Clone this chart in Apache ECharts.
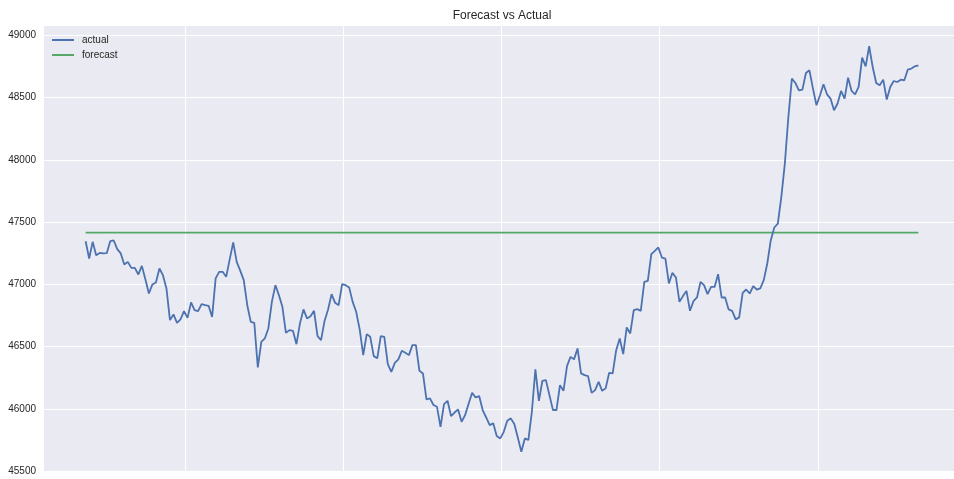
<!DOCTYPE html>
<html>
<head>
<meta charset="utf-8">
<script src="https://cdn.jsdelivr.net/npm/echarts@6/dist/echarts.min.js"></script>
<style>
html,body{margin:0;padding:0;background:#fff;}
#chart{width:954px;height:479px;}
</style>
</head>
<body>
<div id="chart"></div>
<script>
// ---- data ----
const titleText = 'Forecast vs Actual';
const seriesNames = ['actual', 'forecast'];
const actual = [
47346,47207,47341,47234,47252,47248,47250,47346,47352,47282,
47248,47159,47180,47132,47132,47079,47148,47041,46926,46999,
47015,47127,47073,46967,46712,46758,46690,46718,46784,46730,
46854,46792,46784,46840,46832,46827,46738,47047,47100,47100,
47060,47200,47336,47180,47110,47033,
46832,46698,46690,46332,46538,46565,46645,46859,46993,46913,
46819,46610,46632,46626,46519,46686,46798,46726,46744,46787,
46584,46552,46706,46798,46921,46851,46832,47001,46993,46975,
46859,46779,46637,46431,46600,46578,46423,46405,46584,46578,
46359,46297,46369,46397,46466,46450,46431,46511,46511,
46305,46284,46075,46083,46030,46016,45855,46038,46064,45941,
45970,45995,45896,45949,46040,46128,46091,46102,45990,45930,
45869,45883,45781,45762,45815,45904,45923,45877,45770,45655,
45762,45749,45976,46316,46064,46225,46230,46110,45990,45990,
46190,46144,46343,46417,46397,
46485,46284,46270,46262,46128,46150,46217,46144,46164,46289,
46284,46471,46565,46439,46653,46605,46792,46800,46787,47019,
47027,47242,47268,47296,47215,47207,47007,47092,47055,46859,
46905,46947,46787,46865,46894,47019,46993,46921,46979,46979,
47081,46894,46894,46798,46787,46718,46734,46931,
46958,46926,46985,46958,46967,47033,47167,47354,47456,47488,
47702,47970,48344,48652,48617,48558,48564,48697,48719,48572,
48438,48518,48607,48526,48492,48398,48452,48553,48492,48660,
48553,48526,48585,48821,48751,48912,48745,48617,48599,48644,
48484,48585,48633,48625,48644,48639,48725,48733,48751,48759
];
const forecastValue = 47415;
const yTicks = [45500, 46000, 46500, 47000, 47500, 48000, 48500, 49000];
const xTicks = [28.3, 73.3, 118.3, 163.35, 208.4];

// ---- build ----
const actualPts = actual.map((v, i) => [i, v]);
const forecastPts = actual.map((v, i) => [i, forecastValue]);
const n = actual.length - 1;
const xPad = n * 0.05;
const yMinD = Math.min(...actual, forecastValue), yMaxD = Math.max(...actual, forecastValue);
const yPad = (yMaxD - yMinD) * 0.05;

const chart = echarts.init(document.getElementById('chart'), null, {renderer: 'canvas'});
const font = '"Liberation Sans", Arial, sans-serif';
chart.setOption({
  animation: false,
  backgroundColor: '#ffffff',
  title: {
    text: titleText,
    left: 497, top: 5, textAlign: 'center',
    textStyle: {fontFamily: font, fontSize: 12, fontWeight: 'normal', color: '#262626'}
  },
  legend: {
    data: seriesNames,
    orient: 'vertical',
    left: 47, top: 30,
    itemWidth: 22, itemHeight: 14, itemGap: 5,
    icon: 'path://M0,0L22,0L22,2L0,2Z',
    textStyle: {fontFamily: font, fontSize: 10, color: '#262626', padding: [0, 0, 0, 3]}
  },
  grid: {
    left: 44, top: 26, width: 916, height: 446,
    outerBoundsMode: 'none',
    show: true, backgroundColor: '#EAEAF2', borderWidth: 0, containLabel: false
  },
  xAxis: {
    type: 'value',
    min: -xPad, max: n + xPad,
    axisLine: {show: false},
    axisTick: {show: false, customValues: xTicks},
    axisLabel: {show: false, customValues: xTicks},
    splitLine: {show: true, lineStyle: {color: '#ffffff', width: 1}}
  },
  yAxis: {
    type: 'value',
    min: yMinD - yPad, max: yMaxD + yPad,
    axisLine: {show: false},
    axisTick: {show: false, customValues: yTicks},
    axisLabel: {
      customValues: yTicks, margin: 8,
      fontFamily: font, fontSize: 10, color: '#262626',
      formatter: v => String(v)
    },
    splitLine: {show: true, lineStyle: {color: '#ffffff', width: 1}}
  },
  series: [
    {
      name: seriesNames[0], type: 'line', data: actualPts,
      symbol: 'none', color: '#4C72B0',
      lineStyle: {width: 1.8, color: '#4C72B0'}, z: 3
    },
    {
      name: seriesNames[1], type: 'line', data: forecastPts,
      symbol: 'none', color: '#55A868',
      lineStyle: {width: 1.8, color: '#55A868'}, z: 2
    }
  ]
});
</script>
</body>
</html>
